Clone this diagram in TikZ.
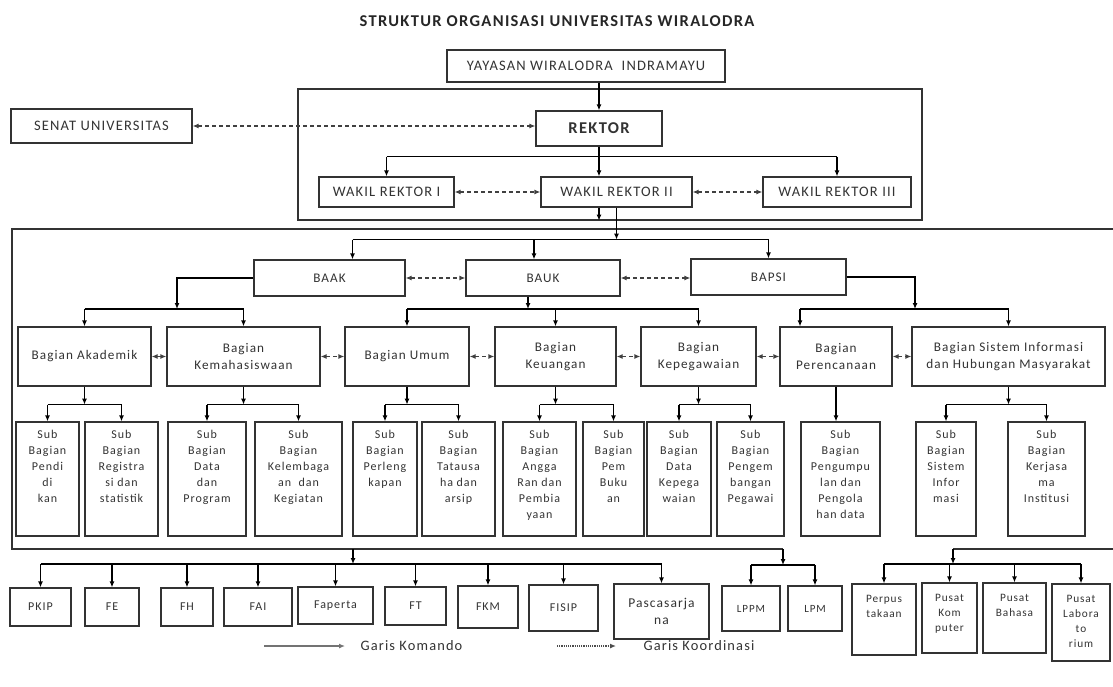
\documentclass[tikz,border=0pt]{standalone}
\usepackage{fontspec}
\setmainfont{Carlito}[LetterSpace=8]
\usetikzlibrary{arrows.meta}
\tikzstyle{unit} = [draw=black!80, line width=1.2pt,
                    rectangle, align=center, inner sep=4pt,
                    text=black!80, font=\fontsize{13.2}{17}\selectfont]
\tikzstyle{atas} = [unit, font=\fontsize{14.5}{17}\selectfont]
\tikzstyle{pimpinan} = [unit, font=\bfseries\fontsize{16.5}{18}\selectfont]
\tikzstyle{fakultas} = [unit, font=\fontsize{12}{16}\selectfont]
\tikzstyle{subbag} = [unit, inner ysep=5pt, font=\fontsize{12}{16}\selectfont]
\tikzstyle{pusat} = [unit, inner ysep=8pt, font=\fontsize{11.3}{15}\selectfont]
\tikzstyle{bingkai} = [draw=black!80, line width=1.2pt]
\tikzstyle{garis} = [draw=black, line width=1.3pt]
\tikzstyle{komando} = [garis, -{Latex[length=6pt,width=5pt]}]
\tikzstyle{koord} = [draw=black!75, line width=1.2pt, dash pattern=on 4pt off 3pt,
                     {Latex[length=6pt,width=5pt]}-{Latex[length=6pt,width=5pt]}]
\newcommand{\tumpuk}[2]{\begin{tabular}[t]{@{}c@{}}#2\end{tabular}\rule[-#1]{0pt}{#1}}

\begin{document}
\begin{tikzpicture}[x=1pt,y=-1pt]%
  \useasboundingbox (0,0) rectangle (1113,686);
  \fill[white] (0,0) rectangle (1113,686);
  \node[text=black!85, font=\bfseries\fontsize{16.5}{18}\selectfont] (judul) at (557,21)
    {STRUKTUR ORGANISASI UNIVERSITAS WIRALODRA};

  % pimpinan
  \node[atas, minimum width=278pt, minimum height=32pt] (yayasan) at (586,66) {YAYASAN WIRALODRA\ \ INDRAMAYU};
  \node[bingkai, minimum width=624pt, minimum height=131pt, inner sep=0pt] (rektorat) at (610,154.5) {};
  \node[atas, minimum width=181pt, minimum height=34pt] (senat) at (101.5,126) {SENAT UNIVERSITAS};
  \node[pimpinan, minimum width=126pt, minimum height=35pt] (rektor) at (599,128.5) {REKTOR};
  \node[atas, minimum width=135pt, minimum height=30pt] (wr1) at (386.5,192) {WAKIL REKTOR I};
  \node[atas, minimum width=151pt, minimum height=30pt] (wr2) at (616.5,192) {WAKIL REKTOR II};
  \node[atas, minimum width=148pt, minimum height=30pt] (wr3) at (837,192) {WAKIL REKTOR III};

  \draw[komando] (rektor.north |- yayasan.south) -- (rektor.north);
  \draw[koord] (senat.east) -- (senat.east -| rektor.west);
  \path (rektor.south) ++(0,10) coordinate (rbar);
  \draw[garis] (rbar -| wr1) -- (rbar -| wr3);
  \draw[komando] (rbar -| wr1) -- (wr1.north);
  \draw[komando] (rbar -| wr3) -- (wr3.north);
  \draw[komando] (rektor.south) -- (rektor.south |- wr2.north);
  \draw[koord] (wr1) -- (wr2);
  \draw[koord] (wr2) -- (wr3);
  \draw[komando] (rektor.south |- wr2.south) -- (rektor.south |- rektorat.south);

  % biro
  \draw[bingkai] (1113,229) -- (12,229) -- (12,549) -- (783,549);
  \draw[bingkai] (953,549) -- (1113,549);
  \node[unit, minimum width=151pt, minimum height=36pt] (baak) at (329.5,278) {BAAK};
  \node[unit, minimum width=154pt, minimum height=36pt] (bauk) at (543,278) {BAUK};
  \node[unit, minimum width=155pt, minimum height=36pt] (bapsi) at (768.5,277) {BAPSI};

  \path (wr2.south) ++(0,32) coordinate (bbar);
  \draw[komando] (wr2.south) -- (wr2.south |- bbar);
  \draw[garis] ([xshift=23pt]baak.north |- bbar) -- (bapsi.north |- bbar);
  \draw[komando] ([xshift=23pt]baak.north |- bbar) -- ([xshift=23pt]baak.north);
  \draw[komando] ([xshift=-9pt]bauk.north |- bbar) -- ([xshift=-9pt]bauk.north);
  \draw[komando] (bapsi.north |- bbar) -- (bapsi.north);
  \draw[koord] (baak) -- (bauk);
  \draw[koord] (bauk.east) -- (bauk.east -| bapsi.west);

  % bagian
  \node[unit, minimum width=133pt, minimum height=59pt] (akd) at (84.5,356.5) {Bagian Akademik};
  \node[unit, minimum width=153pt, minimum height=59pt] (kmh) at (243.5,356.5) {Bagian\\Kemahasiswaan};
  \node[unit, minimum width=124pt, minimum height=59pt] (umum) at (407,356.5) {Bagian Umum};
  \node[unit, minimum width=121pt, minimum height=59pt] (keu) at (555.5,356.5) {Bagian\\Keuangan};
  \node[unit, minimum width=115pt, minimum height=59pt] (kpg) at (698.5,356.5) {Bagian\\Kepegawaian};
  \node[unit, minimum width=112pt, minimum height=59pt] (pren) at (836,356.5) {Bagian\\Perencanaan};
  \node[unit, minimum width=193pt, minimum height=59pt] (sim) at (1008.5,356.5) {Bagian Sistem Informasi\\dan Hubungan Masyarakat};

  \coordinate (baakturun) at (177,309);
  \draw[komando] (baak.west) -| (baakturun);
  \draw[garis] (akd.north |- baakturun) -- (kmh.north |- baakturun);
  \draw[komando] ([xshift=-15pt]bauk.south) -- ([xshift=-15pt]bauk.south |- baakturun);
  \draw[garis] (umum.north |- baakturun) -- (kpg.north |- baakturun);
  \coordinate (bapsiturun) at (915,309);
  \draw[komando] (bapsi.east) -| (bapsiturun);
  \draw[garis] ([xshift=-36pt]pren.north |- bapsiturun) -- (sim.north |- bapsiturun);
  \draw[komando] ([xshift=-36pt]pren.north |- bapsiturun) -- ([xshift=-36pt]pren.north);
  \foreach \bg in {akd,kmh,umum,keu,kpg,sim}
    \draw[komando] (\bg.north |- baakturun) -- (\bg.north);
  \foreach \ba/\bb in {akd/kmh,kmh/umum,umum/keu,keu/kpg,kpg/pren,pren/sim}
    \draw[koord] (\ba) -- (\bb);

  % sub bagian
  \node[subbag, minimum width=63pt] (p1) at (47.5,479) {\tumpuk{92.8pt}{Sub\\Bagian\\Pendi\\di\\kan}};
  \node[subbag, minimum width=73pt] (p2) at (121.5,479) {\tumpuk{92.8pt}{Sub\\Bagian\\Registra\\si dan\\statistik}};
  \node[subbag, minimum width=78pt] (m1) at (207,479) {\tumpuk{92.8pt}{Sub\\Bagian\\Data\\dan\\Program}};
  \node[subbag, minimum width=87pt] (m2) at (298.5,479) {\tumpuk{92.8pt}{Sub\\Bagian\\Kelembaga\\an\ \ dan\\Kegiatan}};
  \node[subbag, minimum width=64pt] (u1) at (385,479) {\tumpuk{92.8pt}{Sub\\Bagian\\Perleng\\kapan}};
  \node[subbag, minimum width=73pt] (u2) at (458.5,479) {\tumpuk{92.8pt}{Sub\\Bagian\\Tatausa\\ha dan\\arsip}};
  \node[subbag, minimum width=73pt] (k1) at (539.5,479) {\tumpuk{92.8pt}{Sub\\Bagian\\Angga\\Ran dan\\Pembia\\yaan}};
  \node[subbag, minimum width=61pt] (k2) at (613.5,479) {\tumpuk{92.8pt}{Sub\\Bagian\\Pem\\Buku\\an}};
  \node[subbag, minimum width=64pt] (g1) at (679,479) {\tumpuk{92.8pt}{Sub\\Bagian\\Data\\Kepega\\waian}};
  \node[subbag, minimum width=67pt] (g2) at (750.5,479) {\tumpuk{92.8pt}{Sub\\Bagian\\Pengem\\bangan\\Pegawai}};
  \node[subbag, minimum width=79pt] (r1) at (840.5,479) {\tumpuk{92.8pt}{Sub\\Bagian\\Pengumpu\\lan dan\\Pengola\\han data}};
  \node[subbag, minimum width=60pt] (s1) at (946,479) {\tumpuk{92.8pt}{Sub\\Bagian\\Sistem\\Infor\\masi}};
  \node[subbag, minimum width=77pt] (s2) at (1046.5,479) {\tumpuk{92.8pt}{Sub\\Bagian\\Kerjasa\\ma\\Institusi}};

  \path (akd.south) ++(0,18) coordinate (subbar);
  \foreach \induk/\ka/\kb in {akd/p1/p2,kmh/m1/m2,umum/u1/u2,keu/k1/k2,kpg/g1/g2,sim/s1/s2}{
    \draw[komando] (\induk.south) -- (\induk.south |- subbar);
    \draw[garis] (\ka.north |- subbar) -- (\kb.north |- subbar);
    \draw[komando] (\ka.north |- subbar) -- (\ka.north);
    \draw[komando] (\kb.north |- subbar) -- (\kb.north);
  }
  \draw[komando] (pren.south) -- (pren.south |- r1.north);

  % fakultas, lembaga, pusat
  \node[fakultas, minimum width=61pt, minimum height=38pt] (pkip) at (40.5,607) {PKIP};
  \node[fakultas, minimum width=54pt, minimum height=38pt] (fe) at (112,607) {FE};
  \node[fakultas, minimum width=52pt, minimum height=38pt] (fh) at (187,607) {FH};
  \node[fakultas, minimum width=68pt, minimum height=38pt] (fai) at (258,607) {FAI};
  \node[fakultas, minimum width=75pt, minimum height=37pt] (faperta) at (335.5,605.5) {Faperta};
  \node[fakultas, minimum width=61pt, minimum height=38pt] (ft) at (415.5,606) {FT};
  \node[fakultas, minimum width=60pt, minimum height=42pt] (fkm) at (488,607) {FKM};
  \node[fakultas, minimum width=69pt, minimum height=46pt] (fisip) at (563.5,608) {FISIP};
  \node[unit, font=\fontsize{13.5}{17}\selectfont, minimum width=95pt, minimum height=55pt] (pasca) at (661.5,611.5) {Pascasarja\\na};
  \node[fakultas, font=\fontsize{11}{14}\selectfont, minimum width=58pt, minimum height=45pt] (lppm) at (751,608.5) {LPPM};
  \node[fakultas, font=\fontsize{11}{14}\selectfont, minimum width=54pt, minimum height=45pt] (lpm) at (815,608.5) {LPM};
  \node[pusat, minimum width=64pt] (perpus) at (884,619.5) {\tumpuk{44.5pt}{Perpus\\takaan}};
  \node[pusat, minimum width=55pt] (kom) at (949.5,618) {\tumpuk{43.5pt}{Pusat\\Kom\\puter}};
  \node[pusat, minimum width=63pt] (bhs) at (1014.5,618) {\tumpuk{43.5pt}{Pusat\\Bahasa}};
  \node[pusat, minimum width=58pt] (lab) at (1081,622.5) {\tumpuk{50.5pt}{Pusat\\Labora\\to\\rium}};

  \coordinate (fakturun) at (353,549);
  \coordinate (fakbar) at (353,564);
  \draw[komando] (fakturun) -- (fakbar);
  \draw[garis] (pkip.north |- fakbar) -- (pasca.north |- fakbar);
  \foreach \fk in {pkip,fe,fh,fai,faperta,ft,fkm,fisip,pasca}
    \draw[komando] (\fk.north |- fakbar) -- (\fk.north);

  \coordinate (lemturun) at (783,549);
  \coordinate (lembar) at (783,565);
  \draw[komando] (lemturun) -- (lembar);
  \draw[garis] (lppm.north |- lembar) -- (lpm.north |- lembar);
  \foreach \lm in {lppm,lpm}
    \draw[komando] (\lm.north |- lembar) -- (\lm.north);

  \coordinate (pusturun) at (953,549);
  \coordinate (pusbar) at (953,564);
  \draw[komando] (pusturun) -- (pusbar);
  \draw[garis] (perpus.north |- pusbar) -- (lab.north |- pusbar);
  \foreach \ps in {perpus,kom,bhs,lab}
    \draw[komando] (\ps.north |- pusbar) -- (\ps.north);

  % keterangan
  \coordinate (kmdA) at (264,646);
  \coordinate (kmdB) at (345,646);
  \draw[draw=black!55, line width=2pt, -{Latex[length=6pt,width=5pt]}] (kmdA) -- (kmdB);
  \node[anchor=west, text=black!80, font=\fontsize{14.4}{16}\selectfont] (lgkom) at (357,646) {Garis Komando};
  \coordinate (kooA) at (557,646);
  \coordinate (kooB) at (616,646);
  \draw[draw=black!70, line width=1.2pt, densely dotted, -{Latex[length=6pt,width=5pt]}] (kooA) -- (kooB);
  \node[anchor=west, text=black!80, font=\fontsize{14.4}{16}\selectfont] (lgkoo) at (640,646) {Garis Koordinasi};
\end{tikzpicture}
\end{document}
